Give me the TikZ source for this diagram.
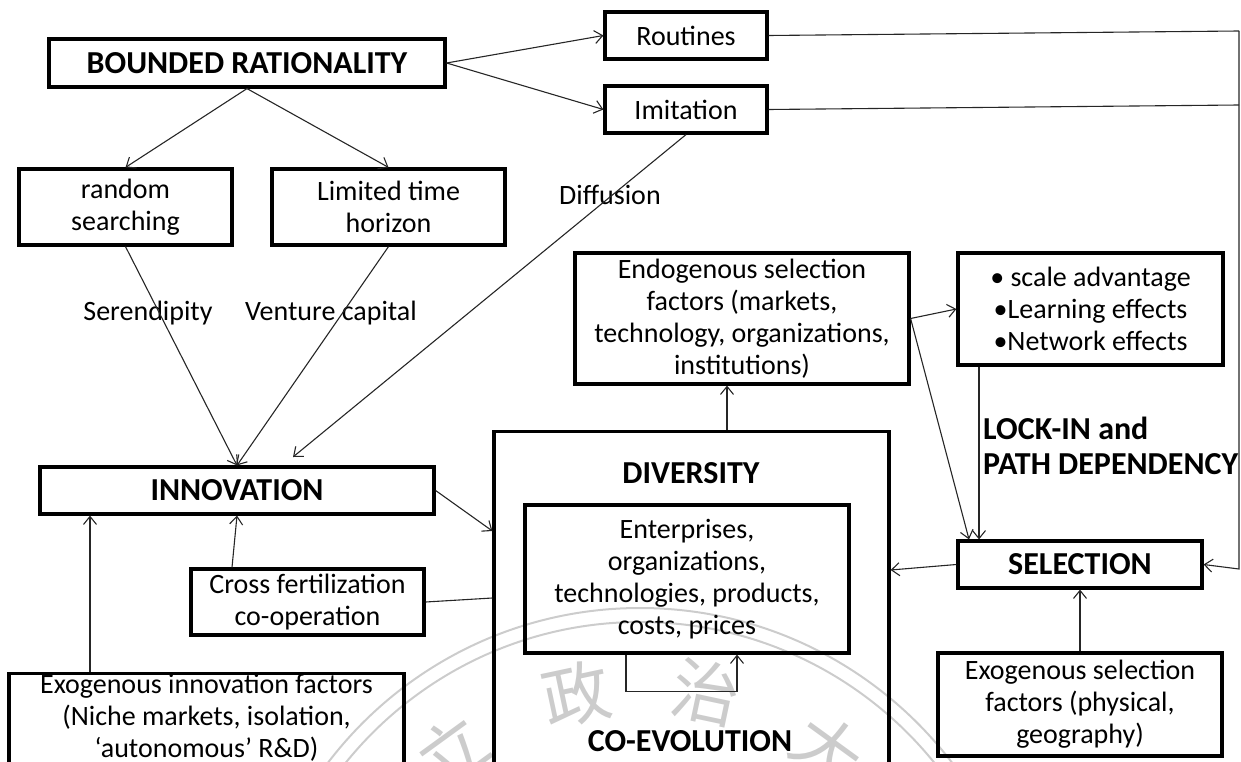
\documentclass[tikz,border=0pt]{standalone}
\usepackage{fontspec}
\setmainfont{Carlito}
\newfontfamily\cjkfont{Noto Sans CJK TC}
\usetikzlibrary{arrows.meta,calc}
\newcommand\rgtxt{\fontsize{28}{32}\selectfont}
\newcommand\bdtxt{\fontsize{32}{35}\selectfont\bfseries}
\tikzset{
  box/.style={draw, line width=3.2pt, inner sep=0pt, align=center, font=\rgtxt},
  bbox/.style={box, font=\bdtxt},
  txt/.style={inner sep=0pt, align=center, font=\rgtxt},
  btxt/.style={inner sep=0pt, align=center, font=\bdtxt},
  conn/.style={line width=1.1pt, black!85},
  arr/.style={conn, -{Straight Barb[length=8pt,width=13pt,line width=1.1pt]}},
  wm/.style={inner sep=0pt, text=black!20, font=\cjkfont\fontsize{68}{68}\selectfont},
  wmline/.style={draw=black!20, line width=2pt}
}
\begin{document}
\begin{tikzpicture}[x=1pt,y=-1pt]
\useasboundingbox (0,0) rectangle (1241,762);
\clip (0,0) rectangle (1241,762);
% watermark
\draw[wmline] (640,1000) circle (392);
\draw[wmline] (640,1000) circle (378);
\node[wm, rotate=36] (wm1) at (452,750) {立};
\node[wm, rotate=12] (wm2) at (576,694) {政};
\node[wm, rotate=-12] (wm3) at (706,692) {治};
\node[wm, rotate=-36] (wm4) at (828,750) {大};

% nodes
\node[bbox, minimum width=396, minimum height=48] (br) at (247,63) {BOUNDED RATIONALITY};
\node[box, minimum width=162, minimum height=47] (rout) at (686,35.5) {Routines};
\node[box, minimum width=162, minimum height=47] (imit) at (686,109.5) {Imitation};
\node[box, minimum width=213, minimum height=76] (rs) at (125.5,207) {random\\searching};
\node[box, minimum width=233, minimum height=76] (lth) at (388.5,207) {Limited time\\horizon};
\node[box, minimum width=334, minimum height=131] (endo) at (742,318.5) {Endogenous selection\\factors (markets,\\technology, organizations,\\institutions)};
\node[box, minimum width=265, minimum height=112] (bul) at (1090.5,309) {• scale advantage\\•Learning effects\\•Network effects};
\node[bbox, minimum width=394, minimum height=47] (innov) at (237,490.5) {INNOVATION};
\node[box, minimum width=233, minimum height=66] (cross) at (307.5,602) {Cross fertilization\\co-operation};
\node[box, minimum width=395, minimum height=130, anchor=north] (exoi) at (206.5,672) {};
\node[txt] (exoitxt) at (206.5,718) {Exogenous innovation factors\\(Niche markets, isolation,\\‘autonomous’ R\&D)};
\node[box, minimum width=395, minimum height=360, anchor=north] (div) at (691.5,430) {};
\node[btxt] (divtxt) at (691,473) {DIVERSITY};
\node[btxt] (coevo) at (690,741) {CO-EVOLUTION};
\node[box, minimum width=324, minimum height=148] (inner) at (687,579) {Enterprises,\\organizations,\\technologies, products,\\costs, prices};
\node[bbox, minimum width=244, minimum height=47] (sel) at (1080,564.5) {SELECTION};
\node[box, minimum width=284, minimum height=103] (exos) at (1080,704.5) {Exogenous selection\\factors (physical,\\geography)};

% labels
\node[txt] (seren) at (148,313) {Serendipity};
\node[txt] (vent) at (331,313) {Venture capital};
\node[txt] (diff) at (610,195) {Diffusion};
\node[btxt, anchor=west, align=left] (lock) at (983,446) {LOCK-IN and\\PATH DEPENDENCY};

% coordinates
\coordinate (difend) at (293,457);
\coordinate (rt) at (1239,31);
\coordinate (it) at (1239,105);
\coordinate (rb) at (1239,569);
\coordinate (exoitop) at (90,672);

% connectors
\draw[arr] (br.south) -- (rs.north);
\draw[arr] (br.south) -- (lth.north);
\draw[arr] (br.east) -- (rout.west);
\draw[arr] (br.east) -- (imit.west);
\draw[arr] (rs.south) -- (innov.north);
\draw[arr] (lth.south) -- (innov.north);
\draw[arr] (imit.south) -- (difend);
\draw[arr] (exoitop) -- (exoitop |- innov.south);
\draw[arr] ($(cross.north)+(-75.5,0)$) -- (innov.south);
\draw[arr] (innov.east) -- ($(div.north west)+(0,101)$);
\draw[conn] (cross.east) -- ($(div.north west)+(0,168)$);
\draw[arr] ($(div.north)+(35.5,0)$) -- ($(endo.south)+(-15,0)$);
\draw[arr] ($(inner.south)+(-61,0)$) -- ++(0,37) -| ($(inner.south)+(50,0)$);
\draw[arr] (endo.east) -- (bul.west);
\draw[arr] (endo.east) -- ($(sel.north)+(-111,0)$);
\draw[arr] ($(bul.south)+(-111.5,0)$) -- ($(sel.north)+(-101,0)$);
\draw[arr] (sel.west) -- ($(div.north east)+(0,140)$);
\draw[arr] (exos.north) -- (sel.south);
\draw[conn] (rout.east) -- (rt);
\draw[conn] (imit.east) -- (it);
\draw[arr] (rt) -- (rb) -- (sel.east);
\end{tikzpicture}
\end{document}
